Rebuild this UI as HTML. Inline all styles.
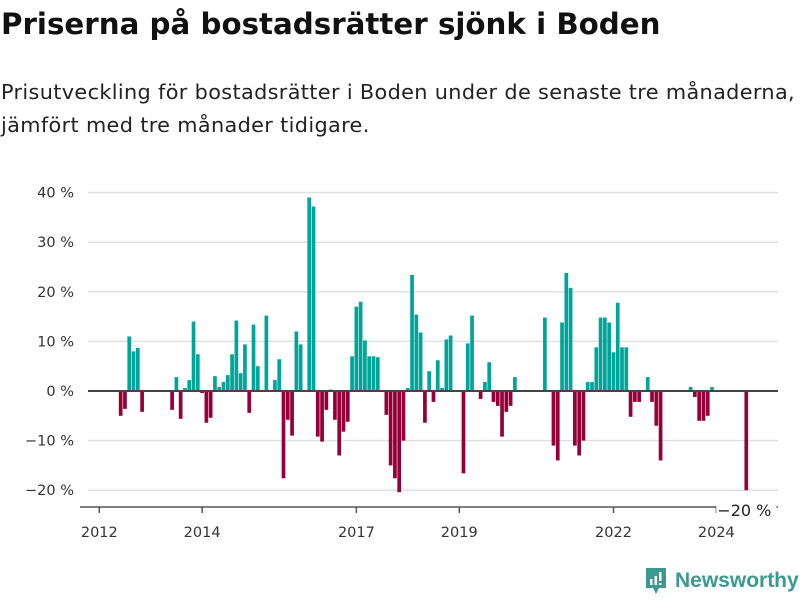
<!DOCTYPE html>
<html><head><meta charset="utf-8">
<style>
body{margin:0;width:800px;height:600px;background:#fff;font-family:"DejaVu Sans","Liberation Sans",sans-serif;overflow:hidden;position:relative;color:#111}
#title{position:absolute;left:1px;top:7px;font-size:29.3px;font-weight:bold;margin:0;white-space:nowrap}
#sub{position:absolute;left:1px;top:76px;font-size:20.8px;line-height:33px;color:#222;width:800px;white-space:nowrap;letter-spacing:0.35px}
#logo{position:absolute;left:644px;top:566px;display:flex;align-items:center;gap:7px;color:#3a9a8f;font-size:21px;font-weight:bold;font-family:"Liberation Sans",sans-serif}
</style></head><body>
<h1 id="title">Priserna på bostadsrätter sjönk i Boden</h1>
<div id="sub">Prisutveckling för bostadsrätter i Boden under de senaste tre månaderna,<br>jämfört med tre månader tidigare.</div>
<svg id="chart" width="800" height="600" style="position:absolute;left:0;top:0"></svg>
<div id="logo">
<svg width="24" height="30" viewBox="0 0 24 30"><path d="M2 2h20v20H15l-3 6-3-6H2z" fill="#3a9a8f"/><rect x="6" y="13" width="2.5" height="6" fill="#fff"/><rect x="10.5" y="10" width="2.5" height="9" fill="#fff"/><rect x="15" y="6" width="2.5" height="9" fill="#fff"/><rect x="15" y="17" width="2.5" height="2" fill="#fff"/></svg>
<span>Newsworthy</span></div>
<script>
const values = [null,null,null,null,null,-5,-3.6,11,8,8.7,-4.2,null,null,null,null,null,null,-3.8,2.8,-5.6,0.6,2.2,14,7.4,-0.4,-6.4,-5.4,3,0.8,1.8,3.2,7.4,14.2,3.6,9.4,-4.4,13.4,5,null,15.2,null,2.2,6.4,-17.6,-5.8,-9,12,9.4,null,39,37.2,-9.2,-10.2,-3.8,0.3,-5.8,-13,-8.2,-6.2,7,17,18,10.2,7,7,6.8,null,-4.8,-15,-17.6,-20.4,-10,0.6,23.4,15.4,11.8,-6.4,4,-2.2,6.2,0.6,10.4,11.2,null,null,-16.6,9.6,15.2,null,-1.6,1.8,5.8,-2.2,-3,-9.2,-4.2,-3,2.8,null,null,null,null,null,null,14.8,null,-11,-14,13.8,23.8,20.8,-11,-13,-10,1.8,1.8,8.8,14.8,14.8,13.8,7.8,17.8,8.8,8.8,-5.2,-2.2,-2.2,null,2.8,-2.2,-7,-14,null,null,null,null,null,null,0.8,-1.2,-6,-6,-5,0.8,null,null,null,null,null,null,null,-20];
const startYear = 2012;
const yTicks = [40,30,20,10,0,-10,-20];
const yearTicks = [2012,2014,2017,2019,2022,2024];
const lastLabel = "−20 %";

const svg = document.getElementById('chart');
const NS = 'http://www.w3.org/2000/svg';
const FONT = 'DejaVu Sans, Liberation Sans, sans-serif';
const x = i => 99.3 + 4.285 * i;
const y = v => 391 - 4.96 * v;
function el(t, a){const e=document.createElementNS(NS,t);for(const k in a)e.setAttribute(k,a[k]);svg.appendChild(e);return e;}

yTicks.forEach(t=>{
  if(t!==0){
    const g = el('line',{x1:88,x2:778,y1:y(t),y2:y(t),stroke:'#e0e0e0','stroke-width':1.5});
    
    
  }
  const tx = el('text',{x:74,y:y(t)+5,'text-anchor':'end','font-size':14.5,fill:'#333','font-family':FONT});
  tx.textContent = (t<0?'−'+(-t):t)+' %';
  
  
});

values.forEach((v,i)=>{
  if(v===null) return;
  const top = v>=0 ? y(v) : y(0);
  const h = Math.max(Math.abs(y(v)-y(0)),1);
  const r = el('rect',{x:x(i)-1.9,y:top,width:3.7,height:h,fill:v>=0?'#00a59a':'#960038'});
  
  
});

const zero = el('line',{x1:88,x2:778,y1:y(0),y2:y(0),stroke:'#444','stroke-width':2});



const ax = el('line',{x1:80,x2:778,y1:507,y2:507,stroke:'#555','stroke-width':1.5});



yearTicks.forEach(yr=>{
  const xi = x((yr-startYear)*12);
  const tk = el('line',{x1:xi,x2:xi,y1:507,y2:513,stroke:'#555','stroke-width':1.5});
  
  
  const t = el('text',{x:xi,y:537,'text-anchor':'middle','font-size':14.5,fill:'#333','font-family':FONT});
  t.textContent = yr;
  
  
});

const li = values.length-1;
const bg = el('rect',{x:x(li)-30,y:500,width:60,height:18,fill:'#fff'});


const lv = el('text',{x:x(li)-2,y:516,'text-anchor':'middle','font-size':16,fill:'#222','font-family':FONT});
lv.textContent = lastLabel;


</script>
</body></html>
